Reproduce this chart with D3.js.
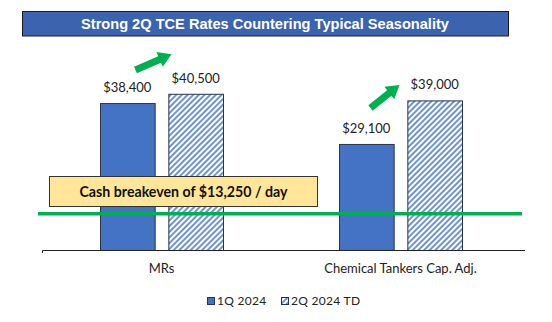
<!DOCTYPE html>
<html>
<head>
<meta charset="utf-8">
<script src="https://cdn.jsdelivr.net/npm/d3@7"></script>
<style>
  body { margin: 0; background: #fff; }
  svg { display: block; }
  text { font-family: Lato, "Open Sans", sans-serif; }
</style>
</head>
<body>
<div id="chart"></div>
<script>
var categories = ["MRs", "Chemical Tankers Cap. Adj."];
var seriesNames = ["1Q 2024", "2Q 2024 TD"];
var q1Values = [38400, 29100];
var q2Values = [40500, 39000];
var breakeven = 13250;
var title = "Strong 2Q TCE Rates Countering Typical Seasonality";
var breakevenLabel = "Cash breakeven of $13,250 / day";

// trend arrows: offset from the category centre and start / end levels
var arrowDx = [[-26, 10], [-30, -1]];
var arrowLevels = [[45900, 49500], [37300, 42500]];

var w = 552, h = 322;
var blue = "#4472C4", edge = "#26344f", green = "#00B050";

var svg = d3.select("#chart").append("svg")
    .attr("width", w)
    .attr("height", h);

var defs = svg.append("defs");
var hatch = defs.append("pattern")
    .attr("id", "hatch")
    .attr("patternUnits", "userSpaceOnUse")
    .attr("width", 4)
    .attr("height", 4)
    .attr("patternTransform", "rotate(45)");
hatch.append("rect").attr("width", 4).attr("height", 4).attr("fill", "#fff");
hatch.append("rect").attr("width", 2).attr("height", 4).attr("fill", "#7093d6");

// title banner
svg.append("rect")
    .attr("x", 22.5).attr("y", 11.5)
    .attr("width", 486).attr("height", 24.5)
    .attr("fill", "#3b63ae")
    .attr("stroke", "#1a1a2a");
svg.append("text")
    .attr("x", 265).attr("y", 29)
    .attr("text-anchor", "middle")
    .attr("fill", "#fff")
    .style("font-family", "'Liberation Sans', Arial, sans-serif")
    .style("font-weight", "bold")
    .style("font-size", "14.6px")
    .text(title);

var x0 = d3.scaleBand().domain(categories).range([42, 520]);
var x1 = d3.scaleBand().domain(seriesNames).range([0, 123]).paddingInner(0.2);
var y = d3.scaleLinear().domain([5000, 45000]).range([250, 74]);

var rows = categories.map(function (c, i) {
    return { cat: c, vals: [q1Values[i], q2Values[i]] };
});
var groupOffset = (x0.bandwidth() - 123) / 2;

var groups = svg.selectAll("g.grp")
    .data(rows)
    .enter()
    .append("g")
    .attr("class", "grp")
    .attr("transform", function (d) { return "translate(" + (x0(d.cat) + groupOffset) + ",0)"; });

groups.selectAll("rect")
    .data(function (d) { return d.vals.map(function (v, j) { return { s: seriesNames[j], v: v }; }); })
    .enter()
    .append("rect")
    .attr("x", function (d) { return x1(d.s) + 0.5; })
    .attr("y", function (d) { return y(d.v) + 0.5; })
    .attr("width", x1.bandwidth())
    .attr("height", function (d) { return y(5000) - y(d.v); })
    .attr("fill", function (d, j) { return j === 0 ? blue : "url(#hatch)"; })
    .attr("stroke", edge)
    .attr("stroke-width", 1);

groups.selectAll("text")
    .data(function (d) { return d.vals.map(function (v, j) { return { s: seriesNames[j], v: v }; }); })
    .enter()
    .append("text")
    .attr("x", function (d) { return x1(d.s) + x1.bandwidth() / 2; })
    .attr("y", function (d) { return y(d.v) - 11; })
    .attr("text-anchor", "middle")
    .attr("fill", "#222")
    .style("font-size", "13px")
    .text(function (d) { return "$" + d3.format(",")(d.v); });

// x axis baseline with category labels
var axis = svg.append("g")
    .attr("transform", "translate(0,250)")
    .call(d3.axisBottom(x0).tickSize(0).tickPadding(14));
axis.select(".domain").attr("stroke", "#222").attr("d", "M42.5,3V0.5H525");
axis.selectAll("text")
    .attr("fill", "#222")
    .style("font-family", "Lato, sans-serif")
    .style("font-size", "13px");

// breakeven line and label box
svg.append("line")
    .attr("x1", 38).attr("x2", 522)
    .attr("y1", y(breakeven)).attr("y2", y(breakeven))
    .attr("stroke", green)
    .attr("stroke-width", 3.5);

svg.append("rect")
    .attr("x", 49.5).attr("y", 176.5)
    .attr("width", 268).attr("height", 30)
    .attr("fill", "#ffe699")
    .attr("stroke", "#333");
svg.append("text")
    .attr("x", 183.5).attr("y", 196.5)
    .attr("text-anchor", "middle")
    .attr("fill", "#111")
    .style("font-weight", "bold")
    .style("font-size", "14.2px")
    .text(breakevenLabel);

// green block arrows
function blockArrow(x1p, y1p, x2p, y2p) {
    var len = Math.hypot(x2p - x1p, y2p - y1p);
    var ang = Math.atan2(y2p - y1p, x2p - x1p) * 180 / Math.PI;
    var head = 13, sw = 3.5, hw = 8;
    var pts = [[0, -sw], [len - head, -sw], [len - head, -hw], [len, 0],
               [len - head, hw], [len - head, sw], [0, sw]];
    svg.append("path")
        .attr("d", "M" + pts.join("L") + "Z")
        .attr("fill", green)
        .attr("transform", "translate(" + x1p + "," + y1p + ") rotate(" + ang + ")");
}
categories.forEach(function (c, i) {
    var cx = x0(c) + x0.bandwidth() / 2;
    blockArrow(cx + arrowDx[i][0], y(arrowLevels[i][0]), cx + arrowDx[i][1], y(arrowLevels[i][1]));
});

// legend
var legend = svg.append("g").attr("transform", "translate(207,297)");
var items = legend.selectAll("g")
    .data(seriesNames)
    .enter()
    .append("g")
    .attr("transform", function (d, i) { return "translate(" + (i * 74) + ",0)"; });
items.append("rect")
    .attr("x", 0.5).attr("y", 0.5)
    .attr("width", 7).attr("height", 7)
    .attr("fill", function (d, i) { return i === 0 ? blue : "url(#hatch)"; })
    .attr("stroke", edge);
items.append("text")
    .attr("x", 10).attr("y", 8)
    .attr("fill", "#222")
    .style("font-size", "12px")
    .style("letter-spacing", "0.3px")
    .text(function (d) { return d; });
</script>
</body>
</html>
